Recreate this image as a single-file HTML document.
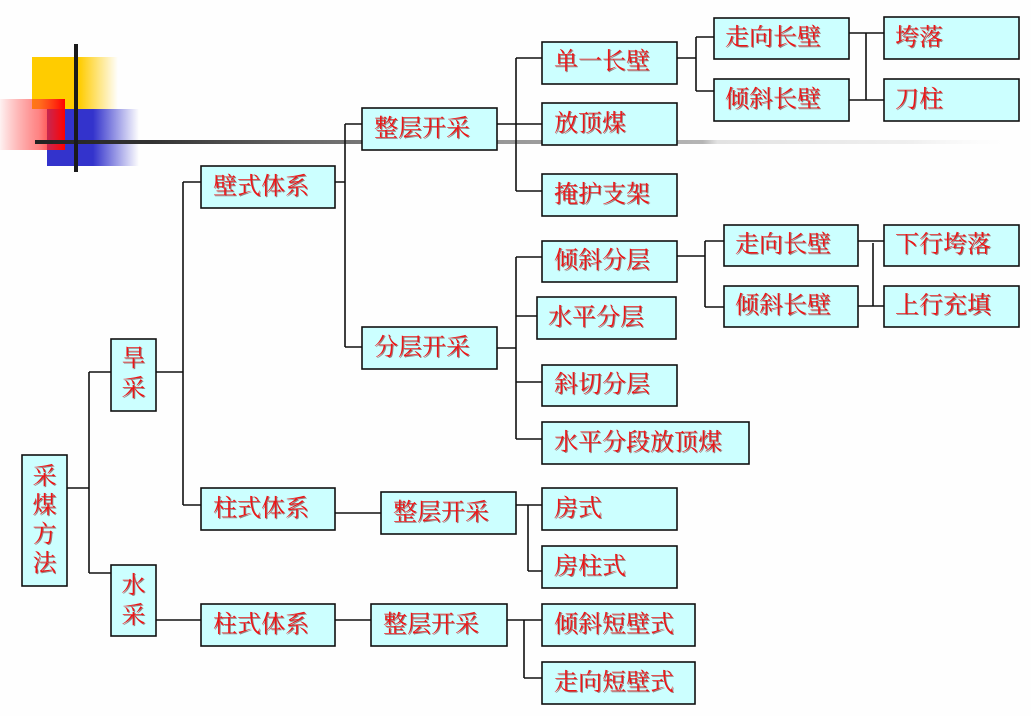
<!DOCTYPE html>
<html><head><meta charset="utf-8">
<style>
html,body{margin:0;padding:0;background:#fefefe;}
svg{display:block;}
.b{fill:#ccffff;stroke:#111;stroke-width:1.6;}
.l{stroke:#111;stroke-width:1.6;fill:none;}
text{font-family:"Liberation Serif","Noto Serif CJK SC","Noto Sans CJK SC",serif;font-size:24px;fill:#ec1418;dominant-baseline:central;filter:url(#sh);}
</style></head>
<body>
<svg width="1031" height="716" viewBox="0 0 1031 716" xmlns="http://www.w3.org/2000/svg">
<defs>
<filter id="sh" x="-5%" y="-10%" width="115%" height="130%">
<feDropShadow dx="1" dy="1" stdDeviation="0.3" flood-color="#6a0c0c" flood-opacity="0.55"/>
</filter>
<linearGradient id="gy" x1="0" y1="0" x2="1" y2="0">
<stop offset="0" stop-color="#ffcc00"/><stop offset="0.55" stop-color="#ffcc00"/><stop offset="1" stop-color="#ffcc00" stop-opacity="0"/>
</linearGradient>
<linearGradient id="gr" x1="0" y1="0" x2="1" y2="0">
<stop offset="0" stop-color="#ff0000" stop-opacity="0.05"/><stop offset="0.6" stop-color="#ff3030" stop-opacity="0.6"/><stop offset="1" stop-color="#ff0000"/>
</linearGradient>
<linearGradient id="gb" x1="0" y1="0" x2="1" y2="0">
<stop offset="0" stop-color="#3333cc"/><stop offset="0.5" stop-color="#3333cc"/><stop offset="1" stop-color="#3333cc" stop-opacity="0"/>
</linearGradient>
<linearGradient id="gl" gradientUnits="userSpaceOnUse" x1="35" y1="0" x2="1010" y2="0">
<stop offset="0" stop-color="#222"/>
<stop offset="0.12" stop-color="#333"/>
<stop offset="0.27" stop-color="#666"/>
<stop offset="0.45" stop-color="#939393"/>
<stop offset="0.62" stop-color="#ababab"/>
<stop offset="0.685" stop-color="#b5b5b5"/>
<stop offset="0.70" stop-color="#e2e2e2"/>
<stop offset="0.9" stop-color="#efefef"/>
<stop offset="1" stop-color="#fafafa" stop-opacity="0"/>
</linearGradient>
</defs>

<!-- decoration -->
<rect x="32" y="57" width="86" height="52" fill="url(#gy)"/>
<rect x="47" y="109" width="92" height="57" fill="url(#gb)"/>
<rect x="0" y="99" width="65" height="51" fill="url(#gr)"/>
<rect x="35" y="140" width="975" height="4" fill="url(#gl)"/>
<rect x="74" y="44" width="4" height="128" fill="#1a1a1a"/>

<!-- connectors -->
<path class="l" d="M67 488H89 M89 372V573 M89 372H111 M89 573H111"/>
<path class="l" d="M156 372H183 M183 182V505 M183 182H201 M183 505H201"/>
<path class="l" d="M156 620H201"/>
<path class="l" d="M335 182H345 M345 124V347 M345 124H362 M345 347H362"/>
<path class="l" d="M335 513H381"/>
<path class="l" d="M335 620H371"/>
<path class="l" d="M497 124H542 M516 58V191 M516 58H542 M516 191H542"/>
<path class="l" d="M497 348H516 M516 257V439 M516 257H542 M516 316H537 M516 382H542 M516 439H542"/>
<path class="l" d="M516 505H542 M528 505V571 M528 571H542"/>
<path class="l" d="M507 620H542 M524 620V678 M524 678H542"/>
<path class="l" d="M677 58H696 M696 37V91 M696 37H714 M696 91H714"/>
<path class="l" d="M849 33H884 M849 100H884 M866 33V100"/>
<path class="l" d="M677 256H705 M705 241V307 M705 241H724 M705 307H724"/>
<path class="l" d="M858 241H884 M858 306H884 M873 243V306"/>

<!-- boxes -->
<rect class="b" x="22" y="455" width="45" height="131"/>
<rect class="b" x="111" y="339" width="45" height="72"/>
<rect class="b" x="111" y="565" width="45" height="71"/>
<rect class="b" x="201" y="166" width="134" height="42"/>
<rect class="b" x="201" y="488" width="134" height="42"/>
<rect class="b" x="201" y="604" width="134" height="42"/>
<rect class="b" x="362" y="108" width="135" height="42"/>
<rect class="b" x="362" y="327" width="135" height="42"/>
<rect class="b" x="381" y="492" width="135" height="42"/>
<rect class="b" x="371" y="604" width="136" height="42"/>
<rect class="b" x="542" y="42" width="135" height="42"/>
<rect class="b" x="542" y="103" width="135" height="42"/>
<rect class="b" x="542" y="174" width="135" height="42"/>
<rect class="b" x="542" y="241" width="135" height="41"/>
<rect class="b" x="537" y="297" width="139" height="42"/>
<rect class="b" x="542" y="365" width="135" height="41"/>
<rect class="b" x="542" y="422" width="207" height="42"/>
<rect class="b" x="542" y="488" width="135" height="42"/>
<rect class="b" x="542" y="546" width="135" height="42"/>
<rect class="b" x="542" y="604" width="153" height="42"/>
<rect class="b" x="542" y="662" width="153" height="42"/>
<rect class="b" x="714" y="18" width="135" height="41"/>
<rect class="b" x="714" y="79" width="135" height="42"/>
<rect class="b" x="884" y="17" width="135" height="42"/>
<rect class="b" x="884" y="79" width="135" height="42"/>
<rect class="b" x="724" y="225" width="134" height="41"/>
<rect class="b" x="724" y="286" width="134" height="41"/>
<rect class="b" x="884" y="225" width="135" height="41"/>
<rect class="b" x="884" y="286" width="135" height="41"/>

<!-- vertical labels -->
<text x="44.5" y="477" text-anchor="middle">采</text>
<text x="44.5" y="506" text-anchor="middle">煤</text>
<text x="44.5" y="535" text-anchor="middle">方</text>
<text x="44.5" y="564" text-anchor="middle">法</text>
<text x="133.5" y="359" text-anchor="middle">旱</text>
<text x="133.5" y="389" text-anchor="middle">采</text>
<text x="133.5" y="586" text-anchor="middle">水</text>
<text x="133.5" y="616" text-anchor="middle">采</text>

<!-- horizontal labels -->
<text x="213" y="187">壁式体系</text>
<text x="213" y="509">柱式体系</text>
<text x="213" y="625">柱式体系</text>
<text x="374" y="129">整层开采</text>
<text x="374" y="348">分层开采</text>
<text x="393" y="513">整层开采</text>
<text x="383" y="625">整层开采</text>
<text x="554" y="62">单一长壁</text>
<text x="554" y="124">放顶煤</text>
<text x="554" y="195">掩护支架</text>
<text x="554" y="261">倾斜分层</text>
<text x="548" y="318">水平分层</text>
<text x="554" y="385">斜切分层</text>
<text x="554" y="443">水平分段放顶煤</text>
<text x="554" y="509">房式</text>
<text x="554" y="567">房柱式</text>
<text x="554" y="625">倾斜短壁式</text>
<text x="554" y="683">走向短壁式</text>
<text x="725" y="38">走向长壁</text>
<text x="725" y="100">倾斜长壁</text>
<text x="895" y="38">垮落</text>
<text x="895" y="100">刀柱</text>
<text x="735" y="245">走向长壁</text>
<text x="735" y="306">倾斜长壁</text>
<text x="895" y="245">下行垮落</text>
<text x="895" y="306">上行充填</text>
</svg>
</body></html>
